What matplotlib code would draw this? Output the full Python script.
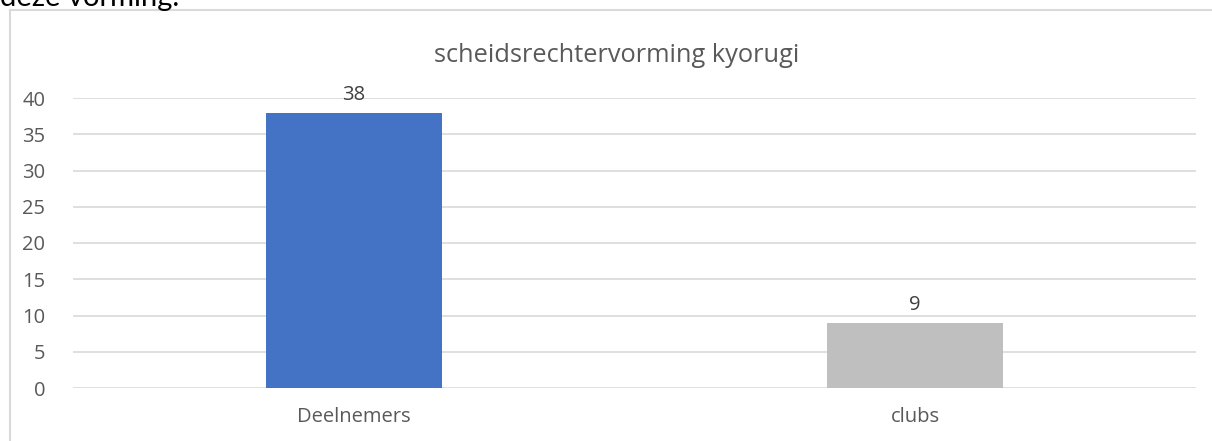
import matplotlib; matplotlib.use("Agg")
import matplotlib.pyplot as plt

categories = ["Deelnemers", "clubs"]
values = [38, 9]
bar_colors = ["#4472C4", "#BFBFBF"]
yticks = [0, 5, 10, 15, 20, 25, 30, 35, 40]
title = "scheidsrechtervorming kyorugi"

plt.rcParams["font.family"] = ["Open Sans", "DejaVu Sans"]
txt = "#595959"

fig = plt.figure(figsize=(12.12, 4.41), dpi=100)
W, H = 1212, 441
# chart frame (cut off at right/bottom like the screenshot)
fig.add_artist(plt.Line2D([9.5/W, 9.5/W], [0, 1 - 9.5/H], color="#D9D9D9", lw=1.5))
fig.add_artist(plt.Line2D([9.5/W, 1], [1 - 9.5/H, 1 - 9.5/H], color="#D9D9D9", lw=1.5))
# leftover line of document text above the chart, cut off by the screenshot
fig.text(0.0, 1 - 6/H, "deze vorming.", fontsize=21, color="#000000", va="baseline", ha="left",
         family=["Lato", "DejaVu Sans"])

ax = fig.add_axes([73/W, 1 - 388/H, (1196 - 73)/W, (388 - 98)/H])
x = range(len(categories))
bars = ax.bar(x, values, width=0.314, color=bar_colors, zorder=3)
for b, v in zip(bars, values):
    ax.text(b.get_x() + b.get_width()/2, v + 1.0, str(v), ha="center", va="bottom",
            fontsize=14.5, color="#404040")
ax.set_xlim(-0.5, 1.5)
ax.set_ylim(0, 40)
ax.set_yticks(yticks)
ax.set_xticks(list(x))
ax.set_xticklabels(categories)
ax.grid(axis="y", color="#D9D9D9", lw=1.2, zorder=0)
for s in ax.spines.values():
    s.set_visible(False)
ax.tick_params(length=0, labelsize=14.5, colors=txt)
ax.tick_params(axis="y", pad=20)
ax.tick_params(axis="x", pad=14)
fig.text(617/W, 1 - 55/H, title, ha="center", va="center", fontsize=18.3, color=txt)

fig.savefig("out.png", dpi=100)
